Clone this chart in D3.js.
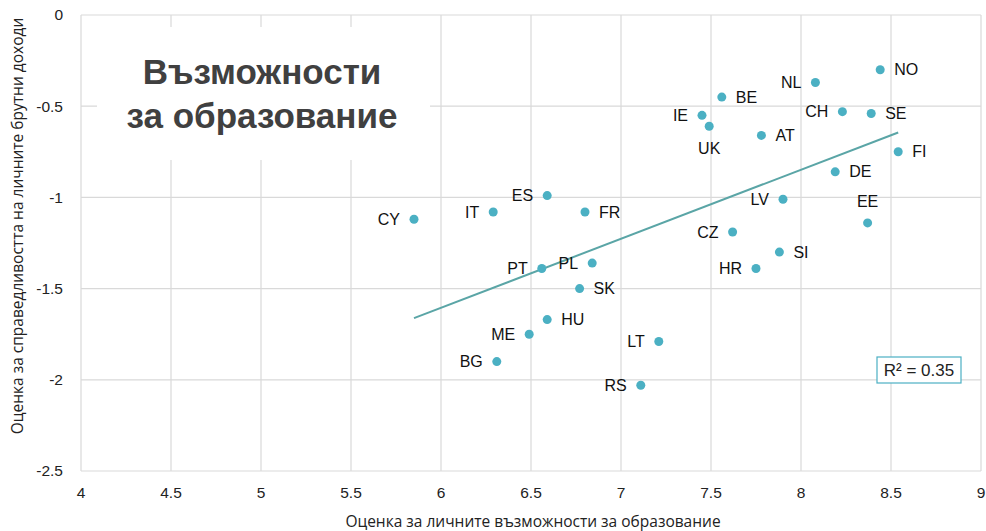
<!DOCTYPE html>
<html>
<head>
<meta charset="utf-8">
<script src="https://cdn.jsdelivr.net/npm/d3@7"></script>
<style>
    body { margin: 0; background: white; font-family: "Liberation Sans", Arial, sans-serif; }
    svg { display: block; }
</style>
</head>
<body>
<svg id="chart"></svg>
<script>
    // country codes and scores (x: education opportunities, y: fairness of gross income)
    const countries = ["NO","NL","BE","IE","UK","CH","SE","AT","FI","DE","LV","EE","ES","IT","FR","CY",
                       "PT","PL","SK","HU","ME","BG","LT","RS","CZ","HR","SI"];
    const eduScore = [8.44, 8.08, 7.56, 7.45, 7.49, 8.23, 8.39, 7.78, 8.54, 8.19, 7.90, 8.37, 6.59, 6.29, 6.80, 5.85,
                      6.56, 6.84, 6.77, 6.59, 6.49, 6.31, 7.21, 7.11, 7.62, 7.75, 7.88];
    const incomeScore = [-0.30, -0.37, -0.45, -0.55, -0.61, -0.53, -0.54, -0.66, -0.75, -0.86, -1.01, -1.14, -0.99, -1.08, -1.08, -1.12,
                         -1.39, -1.36, -1.50, -1.67, -1.75, -1.90, -1.79, -2.03, -1.19, -1.39, -1.30];
    // where each label sits relative to its dot
    const labelSide = ["r","l","r","l","b","l","r","r","r","r","l","t","l","l","r","l",
                       "l","l","r","r","l","l","l","l","l","l","r"];

    const xTicks = [4, 4.5, 5, 5.5, 6, 6.5, 7, 7.5, 8, 8.5, 9];
    const yTicks = [0, -0.5, -1, -1.5, -2, -2.5];
    const titleLines = ["Възможности", "за образование"];
    const xTitle = "Оценка за личните възможности за образование";
    const yTitle = "Оценка за справедливостта на личните брутни доходи";
    const r2Text = "R² = 0.35";

    const width = 986, height = 531;
    const svg = d3.select("#chart").attr("width", width).attr("height", height);

    const x = d3.scaleLinear().domain([4, 9]).range([81, 981]);
    const y = d3.scaleLinear().domain([-2.5, 0]).range([471, 15]);

    const data = countries.map((c, i) => ({ code: c, x: eduScore[i], y: incomeScore[i], side: labelSide[i] }));

    // grid
    const grid = svg.append("g");
    grid.selectAll(".vg").data(xTicks).enter().append("line")
        .attr("x1", d => x(d)).attr("x2", d => x(d))
        .attr("y1", y(0)).attr("y2", y(-2.5))
        .attr("stroke", "#d9d9d9").attr("stroke-width", 1.2);
    grid.selectAll(".hg").data(yTicks).enter().append("line")
        .attr("x1", x(4)).attr("x2", x(9))
        .attr("y1", d => y(d)).attr("y2", d => y(d))
        .attr("stroke", "#d9d9d9").attr("stroke-width", 1.2);

    // tick labels
    svg.append("g").selectAll("text").data(yTicks).enter().append("text")
        .attr("x", 63).attr("y", d => y(d)).attr("dy", "0.35em")
        .attr("text-anchor", "end").attr("font-size", 15.5).attr("fill", "#222")
        .text(d => d);
    svg.append("g").selectAll("text").data(xTicks).enter().append("text")
        .attr("x", d => x(d)).attr("y", 493).attr("dy", "0.35em")
        .attr("text-anchor", "middle").attr("font-size", 15.5).attr("fill", "#222")
        .text(d => d);

    // axis titles
    svg.append("text")
        .attr("x", 533).attr("y", 527)
        .attr("text-anchor", "middle")
        .attr("font-family", "'Open Sans', sans-serif").attr("font-size", 15.5).attr("fill", "#222")
        .text(xTitle);
    svg.append("text")
        .attr("transform", "translate(23,226) rotate(-90)")
        .attr("text-anchor", "middle")
        .attr("font-family", "'Open Sans', sans-serif").attr("font-size", 15.5).attr("fill", "#222")
        .text(yTitle);

    // title box
    svg.append("rect").attr("x", 97).attr("y", 27).attr("width", 333).attr("height", 133).attr("fill", "white");
    svg.append("g").selectAll("text").data(titleLines).enter().append("text")
        .attr("x", 262).attr("y", (d, i) => 84 + i * 44)
        .attr("text-anchor", "middle")
        .attr("font-size", 35).attr("font-weight", "bold").attr("fill", "#404040")
        .text(d => d);

    // linear trendline (least squares)
    const mx = d3.mean(data, d => d.x), my = d3.mean(data, d => d.y);
    const slope = d3.sum(data, d => (d.x - mx) * (d.y - my)) / d3.sum(data, d => (d.x - mx) ** 2);
    const icpt = my - slope * mx;
    const [x0, x1] = d3.extent(data, d => d.x);
    svg.append("line")
        .attr("x1", x(x0)).attr("y1", y(icpt + slope * x0))
        .attr("x2", x(x1)).attr("y2", y(icpt + slope * x1))
        .attr("stroke", "#5aa5a6").attr("stroke-width", 2);

    // dots
    svg.append("g").selectAll("circle").data(data).enter().append("circle")
        .attr("cx", d => x(d.x)).attr("cy", d => y(d.y))
        .attr("r", 4.5).attr("fill", "#4bb0c3");

    // labels
    svg.append("g").selectAll("text").data(data).enter().append("text")
        .attr("x", d => d.side == "r" ? x(d.x) + 14 : d.side == "l" ? x(d.x) - 14 : x(d.x))
        .attr("y", d => d.side == "t" ? y(d.y) - 22 : d.side == "b" ? y(d.y) + 22 : y(d.y))
        .attr("dy", "0.35em")
        .attr("text-anchor", d => d.side == "r" ? "start" : d.side == "l" ? "end" : "middle")
        .attr("font-size", 16).attr("fill", "#111")
        .text(d => d.code);

    // R² box
    svg.append("rect").attr("x", 877).attr("y", 357).attr("width", 84).attr("height", 26)
        .attr("fill", "white").attr("stroke", "#4bb0c3").attr("stroke-width", 1.2);
    svg.append("text").attr("x", 919).attr("y", 370).attr("dy", "0.35em")
        .attr("text-anchor", "middle").attr("font-size", 17).attr("fill", "#222")
        .text(r2Text);
</script>
</body>
</html>
